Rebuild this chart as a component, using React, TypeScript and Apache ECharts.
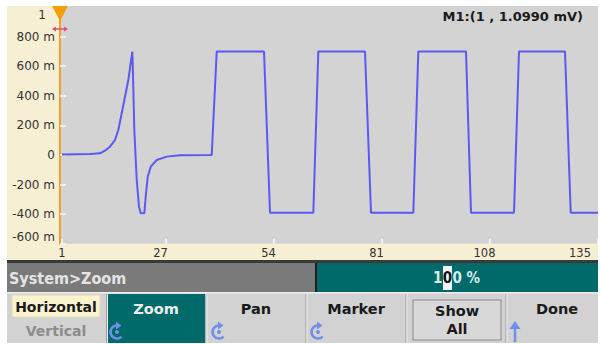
import React, { useEffect, useRef } from "react";
import * as echarts from "echarts";

// ---- data ----
const waveX = [
  1, 8, 10.5, 11.75, 13, 14.25, 15.08, 15.93, 16.75, 17.58, 18.18, 18.58, 18.68, 19.08, 19.68,
  20.25, 20.68, 21.58, 21.93, 22.43, 23.18, 24.68, 27.18, 30.5, 38.43,
  39.68, 51.5, 53.0, 63.83, 65.08, 76.75, 78.25, 88.83, 90.08, 102.0, 103.25,
  114.0, 115.25, 126.75, 128.18, 135,
];
const waveY = [
  0.003, 0.007, 0.011, 0.029, 0.056, 0.101, 0.169, 0.282, 0.394, 0.507, 0.62, 0.698, 0.622, 0.169, -0.169,
  -0.349, -0.394, -0.394, -0.282, -0.147, -0.079, -0.034, -0.011, -0.002, 0,
  0.7, 0.7, -0.39, -0.39, 0.7, 0.7, -0.39, -0.39, 0.7, 0.7, -0.39,
  -0.39, 0.7, 0.7, -0.39, -0.39,
];
const xTickValues = [1, 27, 54, 81, 108, 135];
const xTickLabels = ["1", "27", "54", "81", "108", "135"];
const yTickValues = [-0.6, -0.4, -0.2, 0, 0.2, 0.4, 0.6, 0.8, 1.0];
const yTickLabels = ["-600 m", "-400 m", "-200 m", "0", "200 m", "400 m", "600 m", "800 m", "1"];
const markerText = "M1:(1 , 1.0990 mV)";
const statusText = "System>Zoom";
const softkeys = ["Zoom", "Pan", "Marker"];

const LINE_BLUE = "#5a5af2";
const ICON_BLUE = "#6f8fe8";
const TEAL = "#006a6a";
const FONT = '"DejaVu Sans", Verdana, sans-serif';
const CFONT = '"DejaVu Sans Condensed", "DejaVu Sans", sans-serif';

function rotIcon(cx: number, cy: number) {
  const r = 6.5;
  return [
    {
      type: "arc",
      shape: { cx, cy, r, startAngle: Math.PI * 0.25, endAngle: Math.PI * 1.5, clockwise: true },
      style: { stroke: ICON_BLUE, lineWidth: 2.5, fill: null },
    },
    {
      type: "polygon",
      shape: { points: [[cx - 1, cy - r - 4], [cx + 4.5, cy - r], [cx - 1, cy - r + 4]] },
      style: { fill: ICON_BLUE },
    },
    { type: "circle", shape: { cx, cy, r: 2 }, style: { fill: ICON_BLUE } },
  ];
}

export default function App() {
  const ref = useRef<HTMLDivElement>(null);
  useEffect(() => {
    if (!ref.current) return;
    const chart = echarts.init(ref.current, undefined, { renderer: "svg" });
    const seriesData = waveX.map((x, i) => [x, waveY[i]]);

    const sepXs = [106.5, 206, 306, 406, 506];
    const graphics: any[] = [
      { type: "rect", z: -10, shape: { x: 7, y: 6, width: 591, height: 256 }, style: { fill: "#f7efd3" } },
      { type: "rect", z: -9, shape: { x: 60, y: 6, width: 538, height: 237.8 }, style: { fill: "#d3d3d3" } },
      // status row
      { type: "rect", shape: { x: 7, y: 260, width: 591, height: 3 }, style: { fill: "#3a3a3a" } },
      { type: "rect", shape: { x: 7, y: 263, width: 308, height: 29 }, style: { fill: "#7a7a7a" } },
      { type: "rect", shape: { x: 315, y: 263, width: 283, height: 29 }, style: { fill: TEAL } },
      { type: "rect", shape: { x: 315, y: 263, width: 2, height: 29 }, style: { fill: "#1e1e1e" } },
      {
        type: "text", x: 9, y: 278,
        style: { text: statusText, font: `bold 16px ${CFONT}`, fill: "#e4e4e4", textVerticalAlign: "middle", textAlign: "left" },
      },
      { type: "rect", shape: { x: 443, y: 266, width: 9, height: 24 }, style: { fill: "#f4f4f4" } },
      {
        type: "text", x: 442.5, y: 278,
        style: { text: "1", font: `bold 15px ${CFONT}`, fill: "#d6ecec", textAlign: "right", textVerticalAlign: "middle" },
      },
      {
        type: "text", x: 447.5, y: 278,
        style: { text: "0", font: `bold 15px ${CFONT}`, fill: "#111", textAlign: "center", textVerticalAlign: "middle" },
      },
      {
        type: "text", x: 452.5, y: 278,
        style: { text: "0 %", font: `bold 15px ${CFONT}`, fill: "#d6ecec", textAlign: "left", textVerticalAlign: "middle" },
      },
      // softkey row
      { type: "rect", shape: { x: 7, y: 292, width: 591, height: 51 }, style: { fill: "#d2d2d2" } },
      { type: "rect", shape: { x: 7, y: 292, width: 591, height: 1.5 }, style: { fill: "#eeeeee" } },
      { type: "rect", shape: { x: 108, y: 294, width: 97, height: 49 }, style: { fill: TEAL } },
      ...sepXs.flatMap((x) => [
        { type: "line", shape: { x1: x, y1: 294, x2: x, y2: 343 }, style: { stroke: "#9e9e9e", lineWidth: 1 } },
        { type: "line", shape: { x1: x + 1, y1: 294, x2: x + 1, y2: 343 }, style: { stroke: "#eeeeee", lineWidth: 1 } },
      ]),
      { type: "rect", shape: { x: 12, y: 295, width: 88, height: 22 }, style: { fill: "#fbf3cf", stroke: "#e2dab8", lineWidth: 1 } },
      {
        type: "text", x: 56, y: 307,
        style: { text: "Horizontal", font: `bold 14px ${FONT}`, fill: "#1a1a1a", textAlign: "center", textVerticalAlign: "middle" },
      },
      {
        type: "text", x: 56, y: 331,
        style: { text: "Vertical", font: `bold 14px ${FONT}`, fill: "#8c8c8c", textAlign: "center", textVerticalAlign: "middle" },
      },
      ...softkeys.map((s, i) => ({
        type: "text", x: 156 + i * 100, y: 309,
        style: { text: s, font: `bold 14.5px ${FONT}`, fill: i === 0 ? "#eeeeee" : "#1a1a1a", textAlign: "center", textVerticalAlign: "middle" },
      })),
      ...rotIcon(117, 332),
      ...rotIcon(219, 332),
      ...rotIcon(318, 332),
      {
        type: "rect", shape: { x: 413, y: 300, width: 88, height: 40 },
        style: { fill: "#d8d8d8", stroke: "#a2a2a2", lineWidth: 1.5 },
      },
      {
        type: "text", x: 457, y: 311,
        style: { text: "Show", font: `bold 14.5px ${FONT}`, fill: "#1a1a1a", textAlign: "center", textVerticalAlign: "middle" },
      },
      {
        type: "text", x: 457, y: 329,
        style: { text: "All", font: `bold 14.5px ${FONT}`, fill: "#1a1a1a", textAlign: "center", textVerticalAlign: "middle" },
      },
      {
        type: "text", x: 557, y: 309,
        style: { text: "Done", font: `bold 14.5px ${FONT}`, fill: "#1a1a1a", textAlign: "center", textVerticalAlign: "middle" },
      },
      { type: "line", shape: { x1: 515, y1: 342, x2: 515, y2: 326 }, style: { stroke: ICON_BLUE, lineWidth: 2.5 } },
      { type: "polygon", shape: { points: [[509.5, 329], [515, 321], [520.5, 329]] }, style: { fill: ICON_BLUE } },
      // marker overlays
      {
        type: "text", x: 583, y: 16, z: 10,
        style: { text: markerText, font: `bold 13px ${FONT}`, fill: "#1a1a1a", textAlign: "right", textVerticalAlign: "middle" },
      },
      { type: "polygon", z: 10, shape: { points: [[52, 6], [68, 6], [60, 21]] }, style: { fill: "#f5a000" } },
      { type: "line", z: 10, shape: { x1: 54, y1: 29, x2: 66, y2: 29 }, style: { stroke: "#e0506a", lineWidth: 1.5 } },
      { type: "polygon", z: 10, shape: { points: [[52, 29], [56, 26.5], [56, 31.5]] }, style: { fill: "#e0506a" } },
      { type: "polygon", z: 10, shape: { points: [[68, 29], [64, 26.5], [64, 31.5]] }, style: { fill: "#e0506a" } },
    ];

    const xLabel = (v: number) => {
      const idx = xTickValues.indexOf(Math.round(v));
      if (idx < 0) return "";
      const t = xTickLabels[idx];
      if (idx === 0) return `{first|${t}}`;
      if (idx === xTickValues.length - 1) return `{last|${t}}`;
      return `{mid|${t}}`;
    };
    const yLabel = (v: number) => {
      const idx = yTickValues.findIndex((t) => Math.abs(t - v) < 1e-6);
      if (idx < 0) return "";
      const t = yTickLabels[idx];
      if (idx === yTickValues.length - 1) return `{top|${t}}`;
      if (idx === 0) return `{bot|${t}}`;
      return `{n|${t}}`;
    };
    const lblStyle = { fontFamily: FONT, fontSize: 12, color: "#333" };
    const xlblStyle = { fontFamily: FONT, fontSize: 11.5, color: "#333" };

    chart.setOption({
      animation: false,
      backgroundColor: "#ffffff",
      graphic: { elements: graphics },
      grid: { left: 60, right: 3, top: 7, bottom: 100.2, containLabel: false },
      xAxis: {
        type: "value",
        min: 0.5,
        max: 135,
        position: "bottom",
        splitLine: { show: false },
        axisLine: { show: false, onZero: false },
        axisTick: { show: true, inside: true, length: 5, customValues: xTickValues, lineStyle: { color: "#f8f8f8", width: 1.5 } },
        axisLabel: {
          customValues: xTickValues,
          margin: 3,
          formatter: xLabel,
          ...xlblStyle,
          rich: {
            first: { ...xlblStyle, padding: [0, 0, 0, 0] },
            mid: { ...xlblStyle, padding: [0, 11, 0, 0] },
            last: { ...xlblStyle, padding: [0, 36, 0, 0] },
          },
        },
      },
      yAxis: {
        type: "value",
        min: -0.6,
        max: 1.0,
        interval: 0.2,
        splitLine: { show: false },
        axisLine: { show: true, onZero: false, lineStyle: { color: "#f2a02a", width: 2 } },
        axisTick: { show: true, inside: true, length: 6, lineStyle: { color: "#f8f8f8", width: 1.5 } },
        axisLabel: {
          margin: 5,
          formatter: yLabel,
          showMinLabel: true,
          showMaxLabel: true,
          ...lblStyle,
          rich: {
            n: { ...lblStyle },
            top: { ...lblStyle, padding: [16, 9, 0, 0] },
            bot: { ...lblStyle, padding: [0, 0, 14, 0] },
          },
        },
      },
      series: [
        {
          type: "line",
          data: seriesData,
          symbol: "none",
          lineStyle: { color: LINE_BLUE, width: 2 },
          clip: false,
          z: 5,
        },
      ],
    });
    return () => chart.dispose();
  }, []);
  return <div ref={ref} style={{ position: "fixed", left: 0, top: 0, width: 601, height: 344 }} />;
}
